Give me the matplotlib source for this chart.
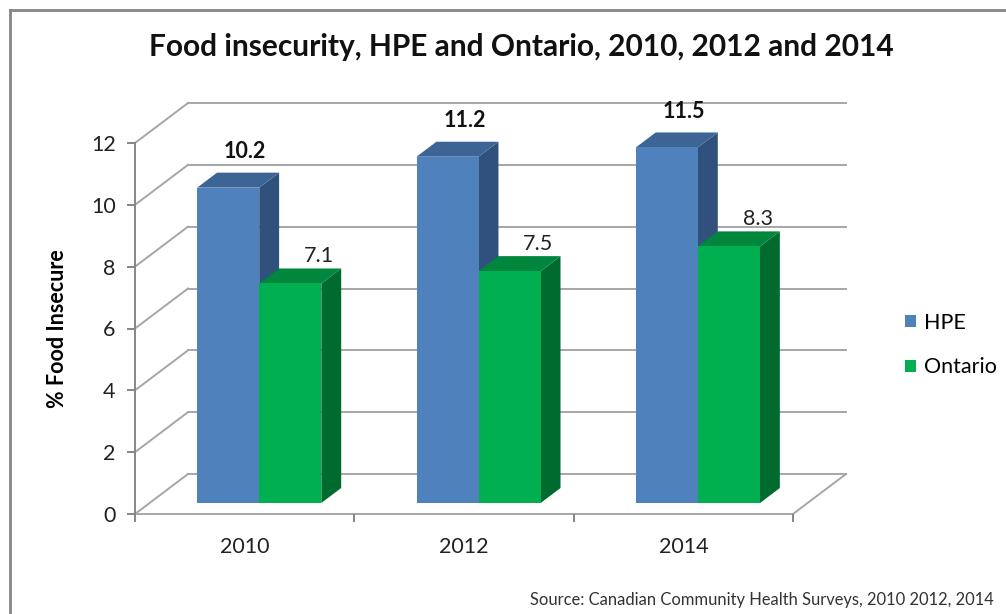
import matplotlib
matplotlib.use("Agg")
import matplotlib.pyplot as plt
from matplotlib.patches import Polygon, Patch
from matplotlib.lines import Line2D

# ---- data ----
years = ["2010", "2012", "2014"]
hpe = [10.2, 11.2, 11.5]
ontario = [7.1, 7.5, 8.3]
series_names = ["HPE", "Ontario"]
yticks = [0, 2, 4, 6, 8, 10, 12]

title = "Food insecurity, HPE and Ontario, 2010, 2012 and 2014"
ylabel = "% Food Insecure"
source = "Source: Canadian Community Health Surveys, 2010 2012, 2014"

# ---- styles ----
FONT = "Lato"
FS = 15.5
front_cols = ["#4F81BD", "#00B050"]
top_cols = ["#3C6494", "#00863D"]
side_cols = ["#30517C", "#006B2E"]
grid_col = "#A6A6A6"
axis_col = "#868686"

W, H = 1006, 614
fig = plt.figure(figsize=(W / 100, H / 100), dpi=100)
ax_l, ax_r, ax_b, ax_t = 135, 793, 514, 143  # pixel positions of plot front plane
ax = fig.add_axes([ax_l / W, (H - ax_b) / H, (ax_r - ax_l) / W, (ax_b - ax_t) / H])
ax.set_xlim(0, len(years))
ax.set_ylim(0, 12)
ax.set_facecolor("none")

px_x = (ax_r - ax_l) / len(years)   # pixels per category unit
px_y = (ax_b - ax_t) / 12.0         # pixels per value unit
DEPTH_PX = (53, 40)                 # full depth of the 3D box in pixels
ddx = DEPTH_PX[0] / px_x
ddy = DEPTH_PX[1] / px_y

# ---- walls / gridlines ----
ncat = len(years)
for v in yticks:
    ax.plot([0, ddx], [v, v + ddy], color=grid_col, lw=1.4, clip_on=False, zorder=1)
    ax.plot([ddx, ncat + ddx], [v + ddy, v + ddy], color=grid_col, lw=1.4,
            clip_on=False, zorder=1)
# floor
ax.plot([ncat, ncat + ddx], [0, ddy], color=grid_col, lw=1.4, clip_on=False, zorder=1)
ax.plot([0, ncat], [0, 0], color=grid_col, lw=1.4, clip_on=False, zorder=1)

# ---- 3D bars ----
f0, f1 = 0.275, 0.65          # bar front / back depth fraction
bw = 0.283                    # bar width in category units
for i in range(ncat):
    for s, vals in enumerate([hpe, ontario]):
        v = vals[i]
        x0 = i + 0.5 - bw + s * bw
        x1 = x0 + bw
        ox0, oy0 = f0 * ddx, f0 * ddy
        ox1, oy1 = f1 * ddx, f1 * ddy
        # side face
        ax.add_patch(Polygon([(x1 + ox0, oy0), (x1 + ox1, oy1), (x1 + ox1, v + oy1),
                              (x1 + ox0, v + oy0)], closed=True, fc=side_cols[s],
                             ec="none", zorder=3, clip_on=False))
        # top face
        ax.add_patch(Polygon([(x0 + ox0, v + oy0), (x1 + ox0, v + oy0),
                              (x1 + ox1, v + oy1), (x0 + ox1, v + oy1)], closed=True,
                             fc=top_cols[s], ec="none", zorder=3, clip_on=False))
        # front face
        ax.bar(x0 + ox0, v, width=bw, bottom=oy0, align="edge", color=front_cols[s],
               edgecolor="none", zorder=4, clip_on=False)
        # label
        cx = (x0 + x1) / 2 + ox1
        if s == 0:
            ax.text(cx - 3 / px_x, v + oy1 + 21 / px_y, f"{v:.1f}", ha="center",
                    va="center", fontsize=FS, fontweight="bold", family=FONT,
                    color="#111111", zorder=6)
        else:
            ax.text(cx + 9 / px_x, v + oy1 + 12 / px_y, f"{v:.1f}", ha="center",
                    va="center", fontsize=FS, family=FONT, color="#222222", zorder=6)

# ---- axes ----
for sp in ["top", "right", "bottom"]:
    ax.spines[sp].set_visible(False)
ax.spines["left"].set_color(axis_col)
ax.spines["left"].set_linewidth(1.4)
ax.set_yticks(yticks)
ax.set_yticklabels([str(t) for t in yticks], family=FONT, fontsize=FS, color="#222222")
ax.set_xticks(range(ncat + 1))
ax.set_xticklabels([])
ax.tick_params(axis="both", color=axis_col, width=1.4, length=6, direction="out")
ax.tick_params(axis="y", pad=8)
for i, yr in enumerate(years):
    ax.text(i + 0.5, -33 / px_y, yr, ha="center", va="center", family=FONT,
            fontsize=FS, color="#222222", clip_on=False)
ax.set_ylabel(ylabel, family=FONT, fontsize=FS, fontweight="bold")
ax.yaxis.set_label_coords((68 - ax_l) / (ax_r - ax_l), 0.5)

# ---- title ----
fig.text(521 / W, 1 - 47 / H, title, ha="center", va="center", family=FONT,
         fontsize=21.5, fontweight="bold", color="#111111")

# ---- legend ----
handles = [Patch(fc=front_cols[0], ec="none"), Patch(fc=front_cols[1], ec="none")]
fig.legend(handles, series_names, loc="center left",
           bbox_to_anchor=(886 / W, 1 - 345 / H), frameon=False, handlelength=0.5,
           handleheight=0.5, handletextpad=0.35, labelspacing=1.15,
           prop={"family": FONT, "size": FS})

# ---- source ----
fig.text(530 / W, 1 - 600 / H, source, ha="left", va="center", family=FONT,
         fontsize=11.9, color="#333333")

# ---- frame ----
fig.add_artist(Line2D([9.5 / W, 9.5 / W], [0, 1 - 10 / H], transform=fig.transFigure,
                      color=axis_col, lw=2))
fig.add_artist(Line2D([9.5 / W, 1], [1 - 10 / H, 1 - 10 / H], transform=fig.transFigure,
                      color=axis_col, lw=2))

fig.savefig("out.png", dpi=100, facecolor="white")
